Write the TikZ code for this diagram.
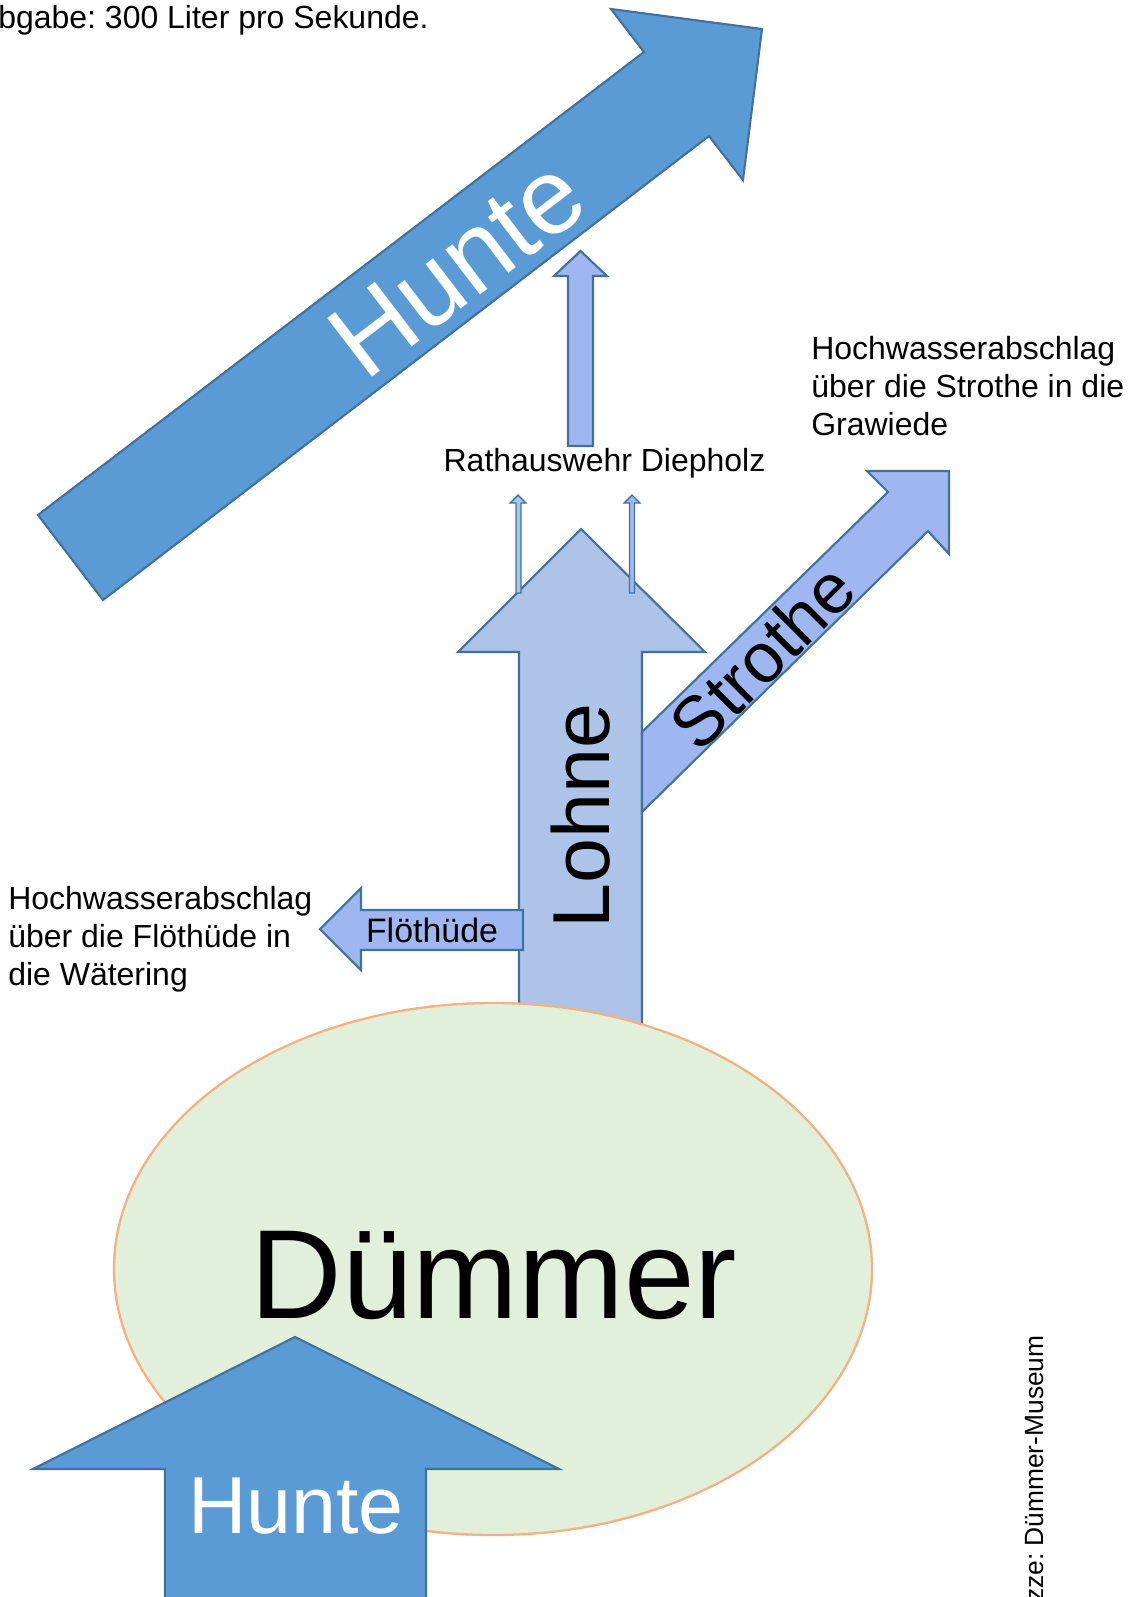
\documentclass[tikz,border=0pt]{standalone}
\usepackage{fontspec}
\setmainfont{Liberation Sans}
\frenchspacing
\definecolor{huntefill}{HTML}{5B9BD5}
\definecolor{outline}{HTML}{41719C}
\definecolor{lohnefill}{HTML}{AEC3E8}
\definecolor{branchfill}{HTML}{9EB7F1}
\definecolor{weirfill}{HTML}{A5C8EA}
\definecolor{lakefill}{HTML}{E2EFDA}
\definecolor{lakeline}{HTML}{F4B183}
\begin{document}
\begin{tikzpicture}[x=0.02cm,y=-0.02cm,
  darkarrow/.style={fill=huntefill,draw=outline,line width=1.2pt,line join=miter},
  lohnearrow/.style={fill=lohnefill,draw=outline,line width=1.2pt,line join=miter},
  brancharrow/.style={fill=branchfill,draw=outline,line width=1.2pt,line join=miter},
  thinarrow/.style={draw=outline,line width=0.8pt,line join=miter},
  lbl/.style={inner sep=0pt,font=\fontsize{18.2}{21.5}\selectfont},
  multilbl/.style={lbl,align=left,anchor=north west},
  rivername/.style={inner sep=0pt,anchor=base}]
\useasboundingbox (0,0) rectangle (1139,1597);
\clip (0,0) rectangle (1139,1597);

% Hunte leaving towards the north-east
\draw[darkarrow] (38,515) -- (644,52) -- (611,9) -- (762,29) -- (743,180) -- (709,136) -- (103,600) -- cycle;
\node[rivername,rotate=37.4,text=white,font=\fontsize{61}{64}\selectfont] (hunteout) at (479,296) {Hunte};

% outflow over the Rathauswehr
\draw[brancharrow] (568,446) -- (568,276) -- (554,276) -- (580.5,251) -- (607,276) -- (593,276) -- (593,446) -- cycle;
\node[lbl,anchor=base] (wehr) at (604.5,471) {Rathauswehr Diepholz};

% Lohne
\draw[lohnearrow] (519,1040) -- (519,652) -- (458,652) -- (581,529) -- (705,652) -- (642,652) -- (642,1040) -- cycle;
\node[rivername,rotate=90,font=\fontsize{46}{50}\selectfont] (lohne) at (609,816) {Lohne};

% two small arrows at the weir
\draw[thinarrow,fill=weirfill] (516,593) -- (516,503) -- (510,503) -- (518,495) -- (526,503) -- (521,503) -- (521,593) -- cycle;
\draw[thinarrow,fill=branchfill] (629.5,593) -- (629.5,503) -- (624,503) -- (632,495) -- (640,503) -- (634.5,503) -- (634.5,593) -- cycle;

% Strothe
\draw[brancharrow] (642,732) -- (888,492) -- (867,471) -- (949,471) -- (949,554) -- (928,531) -- (642,812) -- cycle;
\node[rivername,rotate=45,font=\fontsize{40}{44}\selectfont] (strothe) at (780,674) {Strothe};

% Flöthüde
\draw[brancharrow] (523,910) -- (361,910) -- (361,888) -- (320,929) -- (361,970) -- (361,950) -- (523,950) -- cycle;
\node[rivername,font=\fontsize{19.3}{23}\selectfont] (floethuede) at (432,942) {Flöthüde};

% the lake
\draw[fill=lakefill,draw=lakeline,line width=1.3pt] (493,1269) ellipse [x radius=379,y radius=266];
\node[rivername,font=\fontsize{72.2}{78}\selectfont] (duemmer) at (494,1318) {Dümmer};

% Hunte flowing in from the south
\draw[darkarrow] (165,1620) -- (165,1469) -- (33,1469) -- (295,1337) -- (559,1469) -- (426,1469) -- (426,1620) -- cycle;
\node[rivername,text=white,font=\fontsize{46}{50}\selectfont] (huntein) at (296,1533) {Hunte};

% annotations
\node[lbl,anchor=base west] (abgabe) at (-2,28) {bgabe: 300 Liter pro Sekunde.};
\node[multilbl] (strothenote) at (811,336) {Hochwasserabschlag\\über die Strothe in die\\Grawiede};
\node[multilbl] (floethuedenote) at (8,886) {Hochwasserabschlag\\über die Flöthüde in\\die Wätering};
\node[inner sep=0pt,anchor=base east,rotate=90,font=\fontsize{15}{18}\selectfont] (credit) at (1043,1335) {zze: Dümmer-Museum};
\end{tikzpicture}
\end{document}
